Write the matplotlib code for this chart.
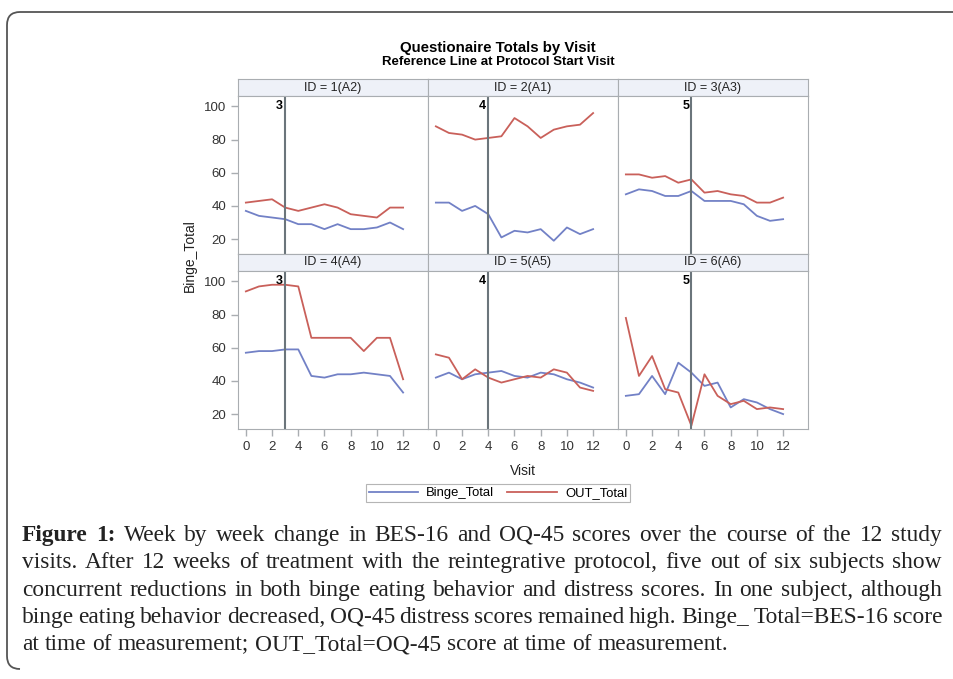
import numpy as np
import matplotlib
matplotlib.use('Agg')
import matplotlib.pyplot as plt
from matplotlib.path import Path
from matplotlib.patches import PathPatch
from matplotlib.lines import Line2D

plt.rcParams['font.family'] = ['Liberation Sans', 'DejaVu Sans']

# Data (visits 0..12)
visits = list(range(13))
panel_titles = ['ID = 1(A2)', 'ID = 2(A1)', 'ID = 3(A3)',
                'ID = 4(A4)', 'ID = 5(A5)', 'ID = 6(A6)']
protocol_start = [3, 4, 5, 3, 4, 5]

binge_total = [
    [37, 34, 33, 32, 29, 29, 26, 29, 26, 26, 27, 30, 26],
    [42, 42, 37, 40, 35, 21, 25, 24, 26, 19, 27, 23, 26],
    [47, 50, 49, 46, 46, 49, 43, 43, 43, 41, 34, 31, 32],
    [57, 58, 58, 59, 59, 43, 42, 44, 44, 45, 44, 43, 33],
    [42, 45, 41, 44, 45, 46, 43, 42, 45, 44, 41, 39, 36],
    [31, 32, 43, 32, 51, 45, 37, 39, 24, 29, 27, 23, 20],
]
out_total = [
    [42, 43, 44, 39, 37, 39, 41, 39, 35, 34, 33, 39, 39],
    [88, 84, 83, 80, 81, 82, 93, 88, 81, 86, 88, 89, 96],
    [59, 59, 57, 58, 54, 56, 48, 49, 47, 46, 42, 42, 45],
    [94, 97, 98, 98, 97, 66, 66, 66, 66, 58, 66, 66, 41],
    [56, 54, 41, 47, 42, 39, 41, 43, 42, 47, 45, 36, 34],
    [78, 43, 55, 35, 33, 13, 44, 31, 26, 28, 23, 24, 23],
]

y_ticks = [20, 40, 60, 80, 100]
x_ticks = [0, 2, 4, 6, 8, 10, 12]

caption_lines = [
    'Figure 1: Week by week change in BES-16 and OQ-45 scores over the course of the 12 study',
    'visits.  After 12 weeks of treatment with the reintegrative protocol, five out of six subjects show',
    'concurrent reductions in both binge eating behavior and distress scores. In one subject, although',
    'binge eating behavior decreased, OQ-45 distress scores remained high.  Binge_ Total=BES-16 score',
    'at time of measurement; OUT_Total=OQ-45 score at time of measurement.',
]

W, H = 954, 679
BLUE = '#7281c6'
RED = '#c9605a'
GRID = '#a9adb1'
REF = '#6b757b'
TXT = '#222222'

fig = plt.figure(figsize=(W / 100, H / 100), dpi=100)


def rect(x0, y0, w, h):
    return [x0 / W, 1 - (y0 + h) / H, w / W, h / H]


col_x = [238, 428, 618]
strip_top = [79, 254]
strip_h = 17
plot_h = 158
col_w = 190

for i in range(6):
    r, c = divmod(i, 3)
    x0 = col_x[c]
    # header strip
    sax = fig.add_axes(rect(x0, strip_top[r], col_w, strip_h))
    sax.set_facecolor('#eef1f8')
    sax.set_xticks([])
    sax.set_yticks([])
    for s in sax.spines.values():
        s.set_color(GRID)
    sax.text(0.5, 0.5, panel_titles[i], ha='center', va='center',
             fontsize=9, color=TXT, transform=sax.transAxes)

    ax = fig.add_axes(rect(x0, strip_top[r] + strip_h, col_w, plot_h))
    ax.plot(visits, binge_total[i], color=BLUE, lw=1.3)
    ax.plot(visits, out_total[i], color=RED, lw=1.3)
    ax.axvline(protocol_start[i], color=REF, lw=1.5)
    ax.text(protocol_start[i] - 0.15, 100, str(protocol_start[i]), ha='right',
            va='center', fontsize=9, fontweight='bold', color='black')
    ax.set_xlim(-0.6, 13.9)
    ax.set_ylim(11, 106.3)
    ax.set_xticks(x_ticks)
    ax.set_yticks(y_ticks)
    for s in ax.spines.values():
        s.set_color(GRID)
    ax.tick_params(colors=GRID, labelcolor='#333333', labelsize=9.5, length=5, width=1)
    if c != 0:
        ax.tick_params(axis='y', left=False, labelleft=False)
    if r != 1:
        ax.tick_params(axis='x', bottom=False, labelbottom=False)

fig.text(498 / W, 1 - 48 / H, 'Questionaire Totals by Visit', ha='center', va='center',
         fontsize=10.8, fontweight='bold', color='black')
fig.text(498 / W, 1 - 62 / H, 'Reference Line at Protocol Start Visit', ha='center',
         va='center', fontsize=9.5, fontweight='bold', color='black')
fig.text(523 / W, 1 - 471 / H, 'Visit', ha='center', va='center', fontsize=10, color=TXT)
fig.text(190 / W, 1 - 256 / H, 'Binge_Total', ha='center', va='center', rotation=90,
         fontsize=10, color=TXT)

handles = [Line2D([], [], color=BLUE, lw=1.3), Line2D([], [], color=RED, lw=1.3)]
leg = fig.legend(handles, ['Binge_Total', 'OUT_Total'], loc='center',
                 bbox_to_anchor=(498 / W, 1 - 493 / H), ncol=2, fontsize=9.4,
                 handlelength=3.8, handletextpad=0.6, columnspacing=1.0,
                 borderpad=0.25, fancybox=False, framealpha=1)
leg.get_frame().set_edgecolor('#b5b5b5')
leg.get_frame().set_linewidth(0.8)

# rounded border around the figure block
bax = fig.add_axes([0, 0, 1, 1], facecolor='none')
bax.set_xlim(0, W)
bax.set_ylim(H, 0)
bax.axis('off')
verts = [(954, 12), (20, 12), (7, 12), (7, 25), (7, 656), (7, 669), (20, 669)]
codes = [Path.MOVETO, Path.LINETO, Path.CURVE3, Path.CURVE3, Path.LINETO,
         Path.CURVE3, Path.CURVE3]
bax.add_patch(PathPatch(Path(verts, codes), fill=False, edgecolor='#555555', lw=1.3))

# caption, justified word by word
renderer = fig.canvas.get_renderer()
serif = ['Liberation Serif', 'DejaVu Serif']
probe = fig.text(0, 0, caption_lines[-1], fontsize=10, family=serif)
w10 = probe.get_window_extent(renderer).width
probe.remove()
cap_size = 10 * 705 / w10

left, right = 22, 942
baselines = [541, 568, 596, 623, 650]
for li, line in enumerate(caption_lines):
    words = line.split()
    items = []
    for wi, wd in enumerate(words):
        bold = (li == 0 and wi < 2)
        t = fig.text(0, 1 - baselines[li] / H, wd, fontsize=cap_size, family=serif,
                     fontweight='bold' if bold else 'normal', color=TXT, va='baseline')
        items.append((t, t.get_window_extent(renderer).width))
    total = sum(w for _, w in items)
    if li < len(caption_lines) - 1:
        gap = (right - left - total) / (len(items) - 1)
    else:
        sp = fig.text(0, 0, 'a a', fontsize=cap_size, family=serif)
        sp2 = fig.text(0, 0, 'aa', fontsize=cap_size, family=serif)
        gap = sp.get_window_extent(renderer).width - sp2.get_window_extent(renderer).width
        sp.remove()
        sp2.remove()
    x = left
    for t, w in items:
        t.set_x(x / W)
        x += w + gap

fig.savefig('out.png', dpi=100)
